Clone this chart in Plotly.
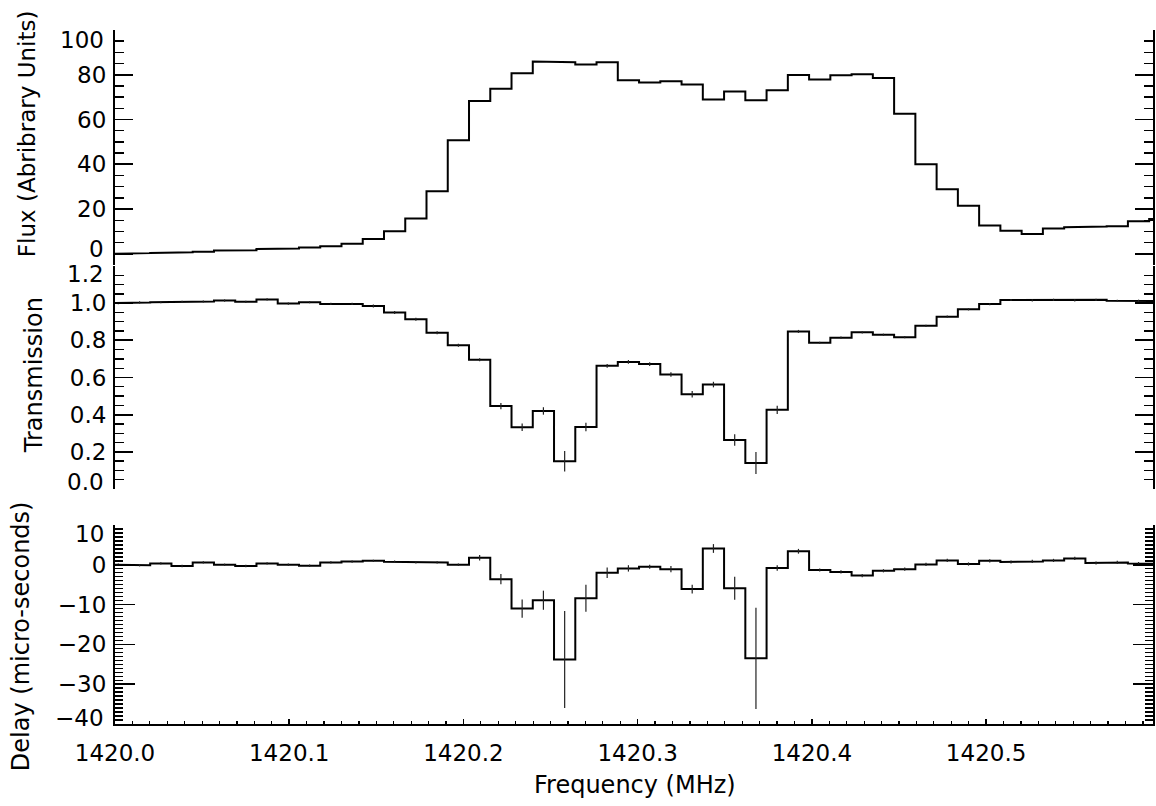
import plotly.graph_objects as go

# ---- data ----
freq = [1420.0019, 1420.0141, 1420.0263, 1420.0385, 1420.0507, 1420.0629, 1420.0751, 1420.0873,
        1420.0995, 1420.1117, 1420.1239, 1420.1361, 1420.1483, 1420.1605, 1420.1727, 1420.1849,
        1420.1971, 1420.2093, 1420.2215, 1420.2337, 1420.2459, 1420.2581, 1420.2703, 1420.2825,
        1420.2947, 1420.3069, 1420.3191, 1420.3313, 1420.3435, 1420.3557, 1420.3679, 1420.3801,
        1420.3923, 1420.4045, 1420.4167, 1420.4289, 1420.4411, 1420.4533, 1420.4655, 1420.4777,
        1420.4899, 1420.5021, 1420.5143, 1420.5265, 1420.5387, 1420.5509, 1420.5631, 1420.5753,
        1420.5875, 1420.5997]

flux = [0.0, 0.3, 0.4, 0.7, 0.9, 1.5, 1.6, 2.2, 2.4, 2.8,
        3.4, 4.5, 6.6, 10.1, 15.8, 28.0, 50.7, 68.3, 73.8, 80.7,
        85.9, 85.6, 84.6, 85.6, 77.5, 76.5, 77.1, 75.6, 68.9, 72.5,
        68.6, 73.1, 79.9, 77.9, 79.8, 80.2, 78.6, 62.6, 40.0, 28.8,
        21.5, 12.7, 10.3, 8.8, 11.3, 11.9, 12.2, 12.3, 14.6, 15.5]

trans = [1.000, 1.004, 1.005, 1.007, 1.009, 1.014, 1.007, 1.020, 0.998, 1.005,
         0.996, 0.996, 0.985, 0.950, 0.913, 0.841, 0.773, 0.695, 0.446, 0.332,
         0.420, 0.149, 0.334, 0.663, 0.684, 0.672, 0.616, 0.510, 0.562, 0.264,
         0.140, 0.426, 0.848, 0.787, 0.814, 0.843, 0.830, 0.817, 0.878, 0.927,
         0.967, 0.995, 1.017, 1.015, 1.018, 1.015, 1.018, 1.013, 1.013, 1.011]

trans_err = [0.006, 0.006, 0.006, 0.006, 0.006, 0.006, 0.006, 0.006, 0.006, 0.006,
             0.006, 0.006, 0.008, 0.008, 0.008, 0.008, 0.008, 0.008, 0.017, 0.020,
             0.020, 0.055, 0.023, 0.010, 0.010, 0.010, 0.012, 0.017, 0.015, 0.031,
             0.059, 0.022, 0.008, 0.006, 0.006, 0.006, 0.006, 0.006, 0.006, 0.006,
             0.006, 0.006, 0.006, 0.006, 0.006, 0.006, 0.006, 0.006, 0.006, 0.006]

delay = [0.0, -0.1, 0.35, -0.3, 0.6, 0.0, -0.3, 0.35, 0.0, -0.25,
         0.6, 0.8, 1.0, 0.76, 0.6, 0.6, 0.0, 1.77, -3.6, -11.0,
         -8.9, -23.8, -8.4, -2.0, -0.9, -0.5, -1.1, -6.1, 4.1, -5.9,
         -23.5, -0.8, 3.4, -1.3, -1.8, -2.7, -1.5, -1.1, 0.1, 1.1,
         0.2, 1.0, 0.7, 0.85, 1.1, 1.6, 0.45, 0.6, 0.3, 0.2]

delay_err = [0.3, 0.3, 0.3, 0.3, 0.3, 0.3, 0.3, 0.3, 0.3, 0.3,
             0.3, 0.3, 0.3, 0.3, 0.3, 0.3, 0.3, 0.7, 1.3, 2.3,
             2.4, 12.2, 3.4, 1.3, 0.8, 0.5, 0.8, 1.1, 1.1, 2.9,
             12.7, 0.7, 0.6, 0.4, 0.4, 0.4, 0.4, 0.4, 0.4, 0.4,
             0.4, 0.4, 0.4, 0.4, 0.4, 0.4, 0.4, 0.4, 0.4, 0.4]

x_ticks = [1420.0, 1420.1, 1420.2, 1420.3, 1420.4, 1420.5]
x_range = [1420.0, 1420.5958]

flux_ticks = [0, 20, 40, 60, 80, 100]
flux_labels = ["0", "20", "40", "60", "80", "100"]
trans_ticks = [0.0, 0.2, 0.4, 0.6, 0.8, 1.0, 1.2]
trans_labels = ["0.0", "0.2", "0.4", "0.6", "0.8", "1.0", "1.2"]
delay_ticks = [-40, -30, -20, -10, 0, 10]
delay_labels = ["\u221240", "\u221230", "\u221220", "\u221210", "0", "10"]

FONT = "DejaVu Sans"

PL, PR, PT, PB = 115, 1155, 30, 724      # plot area in window pixels
W, H = 1156, 806


def step_xy(x, y):
    n = len(x)
    edges = [x[0] - (x[1] - x[0]) / 2]
    edges += [(x[i] + x[i + 1]) / 2 for i in range(n - 1)]
    edges += [x[-1] + (x[-1] - x[-2]) / 2]
    xs, ys = [], []
    for i in range(n):
        xs += [edges[i], edges[i + 1]]
        ys += [y[i], y[i]]
    return xs, ys


fig = go.Figure()
line = dict(color="black", width=2)

fx, fy = step_xy(freq, flux)
fig.add_trace(go.Scatter(x=fx, y=fy, mode="lines", line=line, xaxis="x", yaxis="y", showlegend=False))

tx, ty = step_xy(freq, trans)
fig.add_trace(go.Scatter(x=tx, y=ty, mode="lines", line=line, xaxis="x2", yaxis="y2", showlegend=False))
fig.add_trace(go.Scatter(x=freq, y=trans, mode="markers", marker=dict(size=0.1, color="rgba(0,0,0,0)"),
                         error_y=dict(type="data", array=trans_err, visible=True, width=0,
                                      thickness=1.2, color="#222"),
                         xaxis="x2", yaxis="y2", showlegend=False))

dx, dy = step_xy(freq, delay)
fig.add_trace(go.Scatter(x=dx, y=dy, mode="lines", line=line, xaxis="x3", yaxis="y3", showlegend=False))
fig.add_trace(go.Scatter(x=freq, y=delay, mode="markers", marker=dict(size=0.1, color="rgba(0,0,0,0)"),
                         error_y=dict(type="data", array=delay_err, visible=True, width=0,
                                      thickness=1.2, color="#222"),
                         xaxis="x3", yaxis="y3", showlegend=False))

tickfont = dict(family=FONT, size=23, color="black")


def yaxis(domain, rng, vals, labels, minor_dtick, major_len, minor_len):
    # end labels are drawn separately (shifted inward like the original)
    text = [""] + labels[1:-1] + [""]
    return dict(domain=domain, range=rng, tickmode="array", tickvals=vals, ticktext=text,
                ticks="inside", ticklen=major_len, tickwidth=1.8, tickcolor="black",
                showline=True, linewidth=2, linecolor="black", mirror="ticks",
                showgrid=False, zeroline=False, tickfont=tickfont, ticklabelstandoff=2,
                minor=dict(dtick=minor_dtick, tick0=0, ticks="inside", ticklen=minor_len,
                           tickwidth=1.4, tickcolor="black", showgrid=False))


H_PLOT = PB - PT
W_PLOT = PR - PL


def dom_y(top_px, bot_px):
    return [(PB - bot_px) / H_PLOT, (PB - top_px) / H_PLOT]


fig.update_layout(
    width=W, height=H,
    margin=dict(l=PL, r=W - PR, t=PT, b=H - PB),
    paper_bgcolor="white", plot_bgcolor="white",
    font=dict(family=FONT, color="black"),
    hovermode=False,
    xaxis=dict(domain=[0, 1], range=x_range, visible=False, anchor="y"),
    xaxis2=dict(domain=[0, 1], range=x_range, visible=False, anchor="y2", matches="x"),
    xaxis3=dict(domain=[0, 1], range=x_range, anchor="y3", matches="x",
                tickvals=x_ticks, tickformat=".1f", ticks="inside", ticklen=5,
                tickwidth=1.5, tickcolor="black", showline=True, linewidth=2,
                linecolor="black", mirror=False, showgrid=False, zeroline=False,
                tickfont=tickfont, ticklabelstandoff=7,
                minor=dict(dtick=0.01, tick0=1420.0, ticks="inside", ticklen=3,
                           tickwidth=1.2, tickcolor="black", showgrid=False)),
    yaxis=yaxis(dom_y(30, 265), [-5, 100], flux_ticks, flux_labels, 5, 18, 9),
    yaxis2=yaxis(dom_y(266, 489), [0, 1.2], trans_ticks, trans_labels, 0.05, 18, 9),
    yaxis3=yaxis(dom_y(525, 724), [-40, 10], delay_ticks, delay_labels, 1, 20, 8),
)


def px_x(px):
    return (px - PL) / W_PLOT


def px_y(py):
    return (PB - py) / H_PLOT


# end tick labels, nudged inward
end_labels = [
    ("y", flux_ticks[-1], flux_labels[-1], -10),
    ("y", flux_ticks[0], flux_labels[0], 5),
    ("y2", trans_ticks[-1], trans_labels[-1], -8),
    ("y2", trans_ticks[0], trans_labels[0], 7),
    ("y3", delay_ticks[-1], delay_labels[-1], -9),
    ("y3", delay_ticks[0], delay_labels[0], 6),
]
for yref, val, text, shift in end_labels:
    fig.add_annotation(text=text, xref="paper", yref=yref, x=px_x(106), y=val, yshift=shift,
                       xanchor="right", yanchor="middle", showarrow=False, font=tickfont)

annots = [
    ("Flux (Abribrary Units)", 27, 134, 23),
    ("Transmission", 34, 375, 24),
    ("Delay (micro-seconds)", 21, 636, 24),
]
for text, px, py, size in annots:
    fig.add_annotation(text=text, xref="paper", yref="paper", x=px_x(px), y=px_y(py),
                       xanchor="center", yanchor="middle", textangle=-90,
                       showarrow=False, font=dict(family=FONT, size=size, color="black"))

fig.add_annotation(text="Frequency (MHz)", xref="paper", yref="paper", x=px_x(636), y=px_y(785),
                   xanchor="center", yanchor="middle", showarrow=False,
                   font=dict(family=FONT, size=24, color="black"))

# remove the browser's default page margin so the figure sits at the window corner
fig.write_html("out.html", config={"displayModeBar": False, "staticPlot": True},
               post_script="document.body.style.margin='0';")
